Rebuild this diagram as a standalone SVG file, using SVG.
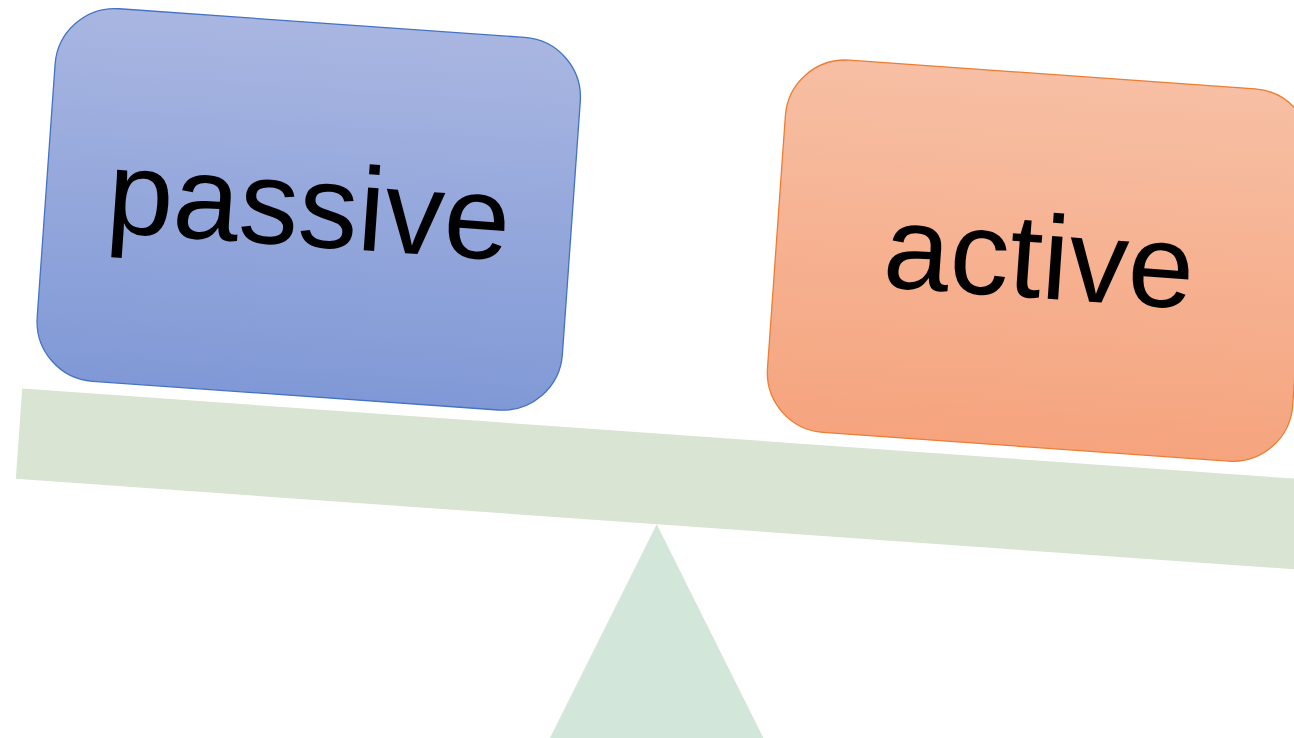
<svg xmlns="http://www.w3.org/2000/svg" width="1294" height="738" viewBox="0 0 1294 738">
  <defs>
    <linearGradient id="gradBlue" x1="0" y1="0" x2="0" y2="1">
      <stop offset="0" stop-color="#a9b6e1"/>
      <stop offset="1" stop-color="#8099d6"/>
    </linearGradient>
    <linearGradient id="gradOrange" x1="0" y1="0" x2="0" y2="1">
      <stop offset="0" stop-color="#f7bfa4"/>
      <stop offset="1" stop-color="#f5a47e"/>
    </linearGradient>
  </defs>
  <style>
    .box-label { font-family: "Liberation Sans", Arial, sans-serif; font-size: 119px; fill: #000000; text-anchor: middle; }
    .passive-box { fill: url(#gradBlue); stroke: #4472c4; stroke-width: 1.3; }
    .active-box { fill: url(#gradOrange); stroke: #ed7d31; stroke-width: 1.3; }
  </style>

  <rect width="1294" height="738" fill="#ffffff"/>

  <!-- fulcrum -->
  <g id="fulcrum">
    <polygon points="656.7,524.3 539.5,759 773.9,759" fill="#d3e6da"/>
  </g>

  <!-- tilted plank -->
  <g id="beam" transform="rotate(4.05)">
    <rect x="49.6" y="386" width="1400" height="90.5" fill="#d9e4d3"/>
  </g>

  <g id="passive" transform="rotate(4.05)">
    <rect class="passive-box" x="59.5" y="0.3" width="526.5" height="373.5" rx="60" ry="60"/>
    <text class="box-label" x="322.8" y="224">passive</text>
  </g>

  <g id="active" transform="rotate(4.05)">
    <rect class="active-box" x="791.6" y="0" width="526.5" height="373.2" rx="60" ry="60"/>
    <text class="box-label" x="1054.9" y="224">active</text>
  </g>
</svg>
